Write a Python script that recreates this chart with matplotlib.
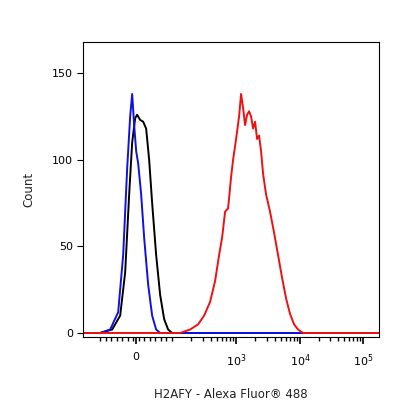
import numpy as np
import matplotlib.pyplot as plt

# x values are in display channel units (biexponential axis), y are counts
blue_x = [83, 100, 110, 118, 123, 127, 130, 132, 134, 136, 138, 141, 144, 148, 152, 156, 160, 379]
blue_y = [0, 0, 2, 12, 45, 95, 125, 138, 120, 105, 98, 80, 55, 28, 10, 2, 0, 0]

black_x = [83, 100, 112, 120, 125, 129, 132, 135, 137, 140, 143, 146, 149, 152, 156, 160, 164, 168, 172, 379]
black_y = [0, 0, 2, 10, 35, 80, 110, 124, 126, 123, 122, 118, 100, 75, 45, 22, 8, 2, 0, 0]

red_x = [83, 180, 190, 198, 204, 210, 215, 219, 222, 225, 228, 231, 233, 236, 239, 241, 243, 245,
         247, 249, 251, 253, 255, 257, 259, 261, 263, 266, 270, 274, 278, 282, 286, 290, 294, 298, 303, 379]
red_y = [0, 0, 2, 5, 10, 18, 30, 45, 55, 70, 72, 90, 100, 112, 125, 138, 130, 120, 126, 128, 125, 118,
         122, 112, 114, 105, 92, 80, 70, 58, 45, 32, 20, 11, 5, 2, 0, 0]

major_pos = [136, 236, 300, 363]
major_lbl = ['0', '$10^3$', '$10^4$', '$10^5$']

fig = plt.figure(figsize=(4.16, 4.16), dpi=100)
ax = fig.add_axes([0.2, 0.19, 0.711, 0.709])

ax.plot(black_x, black_y, color='black', lw=1.4)
ax.plot(blue_x, blue_y, color='#1010e0', lw=1.4)
ax.plot(red_x, red_y, color='#ee1111', lw=1.4)

ax.set_xlim(83, 379)
ax.set_ylim(-2.3, 168)
ax.set_xticks(major_pos)
ax.set_xticklabels(major_lbl, fontsize=8)

minor = []
for base, step in [(172, 236), (236, 300), (300, 363)]:
    for m in range(2, 10):
        minor.append(base + (step - base) * np.log10(m))
minor += list(np.arange(100, 172, 5.5))
ax.set_xticks(minor, minor=True)
ax.tick_params(axis='x', which='major', length=5, width=1.2, pad=6)
ax.tick_params(axis='x', which='minor', length=3, width=1)
ax.set_yticks([0, 50, 100, 150])
ax.tick_params(axis='y', labelsize=8, length=4)

ax.set_xlabel('H2AFY - Alexa Fluor® 488', fontsize=8.5, color='#222222', labelpad=14)
ax.set_ylabel('Count', fontsize=8.5, color='#222222', labelpad=12)

fig.savefig('out.png', dpi=100)
